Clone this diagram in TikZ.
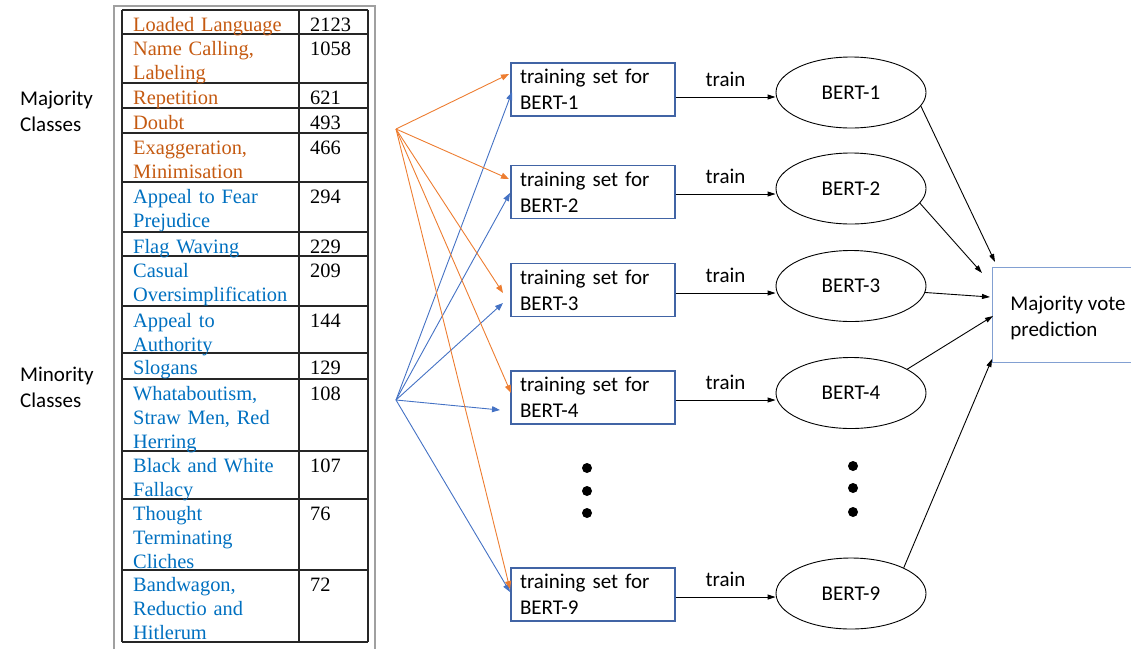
\documentclass[tikz,border=0pt]{standalone}
\usepackage{fontspec}
\setmainfont{Carlito}
\newfontfamily\tnr{Liberation Serif}
\usetikzlibrary{arrows.meta,shapes.geometric}
\definecolor{torange}{HTML}{C55A11}
\definecolor{tblue}{HTML}{0070C0}
\definecolor{aorange}{HTML}{ED7D31}
\definecolor{ablue}{HTML}{4472C4}
\definecolor{boxblue}{RGB}{65,100,165}
\definecolor{mvblue}{RGB}{130,160,210}
\definecolor{framegray}{RGB}{160,160,160}
\begin{document}
\begin{tikzpicture}[x=1pt,y=-1pt,
  cell/.style={anchor=base west, inner sep=0pt, text width=170pt, align=left, font=\tnr\fontsize{20.4}{24}\selectfont},
  majc/.style={cell, text=torange},
  minc/.style={cell, text=tblue},
  numc/.style={cell, text width=55pt, text=black},
  sidelbl/.style={anchor=base west, inner sep=0pt, text width=100pt, align=left, font=\fontsize{21}{26}\selectfont},
  tline/.style={line width=1.3pt, black!85},
  tset/.style={draw=boxblue, line width=1.2pt, minimum width=164pt, minimum height=53pt, text width=146pt, inner xsep=9pt, inner ysep=0pt, align=left, font=\fontsize{21}{26}\selectfont},
  bert/.style={ellipse, draw, line width=0.9pt, minimum width=150pt, minimum height=71pt, inner sep=0pt, font=\fontsize{21}{26}\selectfont},
  mvbox/.style={minimum width=150pt, minimum height=94pt, inner sep=0pt, align=left, font=\fontsize{21}{26}\selectfont},
  dotn/.style={circle, fill=black, minimum size=10pt, inner sep=0pt},
  oarr/.style={aorange, line width=0.9pt, -{Triangle[length=8pt,width=6pt]}},
  barr2/.style={ablue, line width=0.9pt, -{Triangle[length=8pt,width=6pt]}},
  karr/.style={black, line width=0.9pt, -{Triangle[length=8pt,width=5pt]}},
  trainlbl/.style={midway, anchor=base, yshift=11pt, inner sep=0pt, font=\fontsize{21}{26}\selectfont}
]
\useasboundingbox (0,0) rectangle (1131,649);

% outer frame
\draw[framegray, line width=1.5pt] (114,649) -- (114,6) -- (375,6) -- (375,649);

% table grid
\foreach \yy in {10,34,83,108,133,182,232,256,306,353,379,451,499,570,642}
  \draw[tline] (122,\yy) -- (368,\yy);
\draw[tline] (122,10) -- (122,642);
\draw[tline] (299,10) -- (299,642);
\draw[tline] (368,10) -- (368,642);

% table text
\node[majc] (r1) at (133,31) {Loaded Language};
\node[numc] (n1) at (310,31) {2123};
\node[majc] (r2) at (133,55) {Name Calling,\\Labeling};
\node[numc] (n2) at (310,55) {1058};
\node[majc] (r3) at (133,104) {Repetition};
\node[numc] (n3) at (310,104) {621};
\node[majc] (r4) at (133,129) {Doubt};
\node[numc] (n4) at (310,129) {493};
\node[majc] (r5) at (133,154) {Exaggeration,\\Minimisation};
\node[numc] (n5) at (310,154) {466};
\node[minc] (r6) at (133,203) {Appeal to Fear\\Prejudice};
\node[numc] (n6) at (310,203) {294};
\node[minc] (r7) at (133,253) {Flag Waving};
\node[numc] (n7) at (310,253) {229};
\node[minc] (r8) at (133,277) {Casual\\Oversimplification};
\node[numc] (n8) at (310,277) {209};
\node[minc] (r9) at (133,327) {Appeal to\\Authority};
\node[numc] (n9) at (310,327) {144};
\node[minc] (r10) at (133,374) {Slogans};
\node[numc] (n10) at (310,374) {129};
\node[minc] (r11) at (133,400) {Whataboutism,\\Straw Men, Red\\Herring};
\node[numc] (n11) at (310,400) {108};
\node[minc] (r12) at (133,472) {Black and White\\Fallacy};
\node[numc] (n12) at (310,472) {107};
\node[minc] (r13) at (133,520) {Thought\\Terminating\\Cliches};
\node[numc] (n13) at (310,520) {76};
\node[minc] (r14) at (133,591) {Bandwagon,\\Reductio and\\Hitlerum};
\node[numc] (n14) at (310,591) {72};

% side labels
\node[sidelbl] (majl) at (20,105) {Majority\\Classes};
\node[sidelbl] (minl) at (20,381) {Minority\\Classes};

% training set boxes
\node[tset] (t1) at (593,89.5) {training set for\\BERT-1};
\node[tset] (t2) at (593,192) {training set for\\BERT-2};
\node[tset] (t3) at (593,290) {training set for\\BERT-3};
\node[tset] (t4) at (593,397.5) {training set for\\BERT-4};
\node[tset] (t9) at (593,594.5) {training set for\\BERT-9};

% BERT ellipses
\node[bert] (b1) at (851,92.5) {BERT-1};
\node[bert] (b2) at (851,188.5) {BERT-2};
\node[bert] (b3) at (851,286) {BERT-3};
\node[bert] (b4) at (851,393) {BERT-4};
\node[bert] (b9) at (851,593.5) {BERT-9};

% dots
\node[dotn] (dl1) at (587,468) {};
\node[dotn] (dl2) at (587,491) {};
\node[dotn] (dl3) at (587,513) {};
\node[dotn] (dr1) at (853,466) {};
\node[dotn] (dr2) at (853,488) {};
\node[dotn] (dr3) at (853,512) {};

% majority vote box
\node[mvbox] (mv) at (1068,318) {Majority vote\\prediction};
\coordinate (R) at (1131,0);
\draw[mvblue, line width=1.2pt] ([yshift=3pt]mv.north west -| R) -- ([yshift=3pt]mv.north west) -- ([yshift=3pt]mv.south west) -- ([yshift=3pt]mv.south west -| R);

% fan sources and targets
\coordinate (oS) at (396,129);
\coordinate (bS) at (396,400);
\coordinate (o1) at (509,74);
\coordinate (o2) at (509,179);
\coordinate (o3) at (503,293);
\coordinate (o4) at (511,393);
\coordinate (o9) at (510,589);
\coordinate (c1) at (512,92);
\coordinate (c2) at (510,193);
\coordinate (c3) at (503,303);
\coordinate (c4) at (500,410);
\coordinate (c9) at (510,592);

\draw[barr2] (bS) -- (c1);
\draw[barr2] (bS) -- (c2);
\draw[barr2] (bS) -- (c3);
\draw[barr2] (bS) -- (c4);
\draw[barr2] (bS) -- (c9);
\draw[oarr] (oS) -- (o1);
\draw[oarr] (oS) -- (o2);
\draw[oarr] (oS) -- (o3);
\draw[oarr] (oS) -- (o4);
\draw[oarr] (oS) -- (o9);

% train arrows
\draw[karr] ([yshift=-7.5pt]t1.east) -- ([yshift=-4.5pt]b1.west) node[trainlbl] {train};
\draw[karr] ([yshift=-2pt]t2.east) -- ([yshift=-5.5pt]b2.west) node[trainlbl] {train};
\draw[karr] ([yshift=-3pt]t3.east) -- ([yshift=-7pt]b3.west) node[trainlbl] {train};
\draw[karr] ([yshift=-2.5pt]t4.east) -- ([yshift=-7pt]b4.west) node[trainlbl] {train};
\draw[karr] ([yshift=-2.5pt]t9.east) -- ([yshift=-3.5pt]b9.west) node[trainlbl] {train};

% to majority vote
\coordinate (m1) at (995,262);
\coordinate (m2) at (982,273);
\coordinate (m3) at (990,297);
\coordinate (m4) at (993,316);
\coordinate (m9) at (992,359);
\draw[karr] (b1.-11) -- (m1);
\draw[karr] (b2.-12) -- (m2);
\draw[karr] (b3.-5) -- (m3);
\draw[karr] (b4.23) -- (m4);
\draw[karr] (b9.26) -- (m9);
\end{tikzpicture}
\end{document}
